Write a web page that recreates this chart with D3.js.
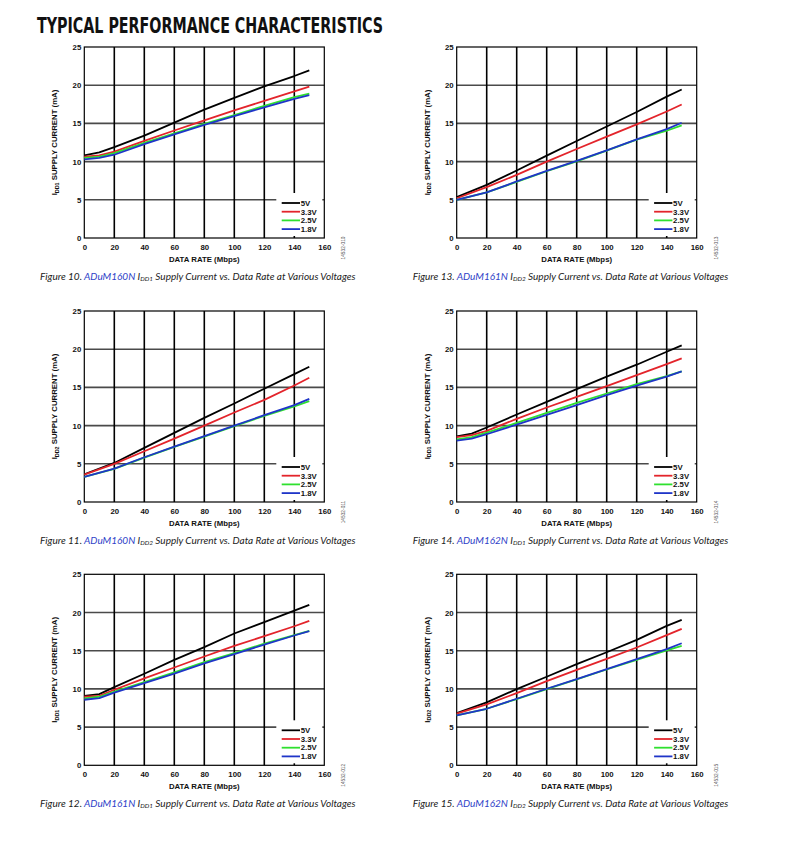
<!DOCTYPE html>
<html>
<head>
<meta charset="utf-8">
<script src="https://cdn.jsdelivr.net/npm/d3@7"></script>
<style>
  html, body { margin: 0; padding: 0; background: #fff; }
  svg { display: block; }
</style>
</head>
<body>
<svg id="chart" width="799" height="841"></svg>
<script>
// ---------- DATA ----------
const voltages = ["5V", "3.3V", "2.5V", "1.8V"];
const xTicks = [0, 20, 40, 60, 80, 100, 120, 140, 160];
const yTicks = [0, 5, 10, 15, 20, 25];

const ratesA = [0, 10, 20, 40, 60, 80, 100, 120, 140, 150];
const ratesB = [0, 20, 40, 60, 80, 100, 120, 140, 150];

// Figure 10: ADuM160N IDD1
const fig10_5V  = [10.8, 11.2, 11.9, 13.4, 15.1, 16.8, 18.35, 19.85, 21.2, 21.95];
const fig10_3V3 = [10.65, 10.8, 11.3, 12.7, 14.07, 15.4, 16.7, 17.96, 19.2, 19.8];
const fig10_2V5 = [10.5, 10.65, 11.1, 12.45, 13.7, 14.95, 16.1, 17.3, 18.45, 18.9];
const fig10_1V8 = [10.3, 10.5, 10.9, 12.3, 13.55, 14.8, 15.95, 17.1, 18.2, 18.7];

// Figure 13: ADuM161N IDD2
const fig13_5V  = [5.35, 6.96, 8.83, 10.78, 12.7, 14.6, 16.5, 18.5, 19.43];
const fig13_3V3 = [5.2, 6.65, 8.26, 10.0, 11.65, 13.26, 14.87, 16.56, 17.48];
const fig13_2V5 = [5.0, 5.96, 7.35, 8.74, 10.04, 11.43, 12.87, 14.04, 14.74];
const fig13_1V8 = [5.0, 5.96, 7.4, 8.78, 10.09, 11.48, 12.91, 14.26, 15.09];

// Figure 11: ADuM160N IDD2
const fig11_5V  = [3.63, 5.11, 7.08, 9.05, 11.01, 12.89, 14.82, 16.74, 17.7];
const fig11_3V3 = [3.58, 4.98, 6.64, 8.3, 10.0, 11.71, 13.37, 15.25, 16.26];
const fig11_2V5 = [3.28, 4.33, 5.81, 7.21, 8.57, 9.92, 11.28, 12.5, 13.2];
const fig11_1V8 = [3.28, 4.37, 5.86, 7.26, 8.61, 10.0, 11.36, 12.67, 13.5];

// Figure 14: ADuM162N IDD1
const fig14_5V  = [8.6, 8.96, 9.75, 11.45, 13.1, 14.77, 16.4, 17.97, 19.67, 20.5];
const fig14_3V3 = [8.48, 8.74, 9.3, 10.88, 12.37, 13.77, 15.17, 16.6, 18.05, 18.8];
const fig14_2V5 = [8.2, 8.5, 9.09, 10.35, 11.67, 12.98, 14.2, 15.43, 16.48, 17.1];
const fig14_1V8 = [8.04, 8.3, 8.87, 10.14, 11.4, 12.67, 13.98, 15.24, 16.4, 17.1];

// Figure 12: ADuM161N IDD1
const fig12_5V  = [9.1, 9.32, 10.24, 11.98, 13.8, 15.46, 17.25, 18.73, 20.25, 21.0];
const fig12_3V3 = [8.97, 9.1, 9.89, 11.37, 12.8, 14.24, 15.64, 16.9, 18.2, 18.9];
const fig12_2V5 = [8.75, 8.97, 9.63, 10.89, 12.15, 13.5, 14.68, 15.94, 17.03, 17.6];
const fig12_1V8 = [8.58, 8.8, 9.5, 10.76, 12.0, 13.33, 14.55, 15.8, 16.99, 17.55];

// Figure 15: ADuM162N IDD2
const fig15_5V  = [6.84, 8.23, 9.97, 11.59, 13.24, 14.8, 16.42, 18.25, 19.03];
const fig15_3V3 = [6.75, 7.97, 9.45, 11.02, 12.5, 13.94, 15.42, 17.03, 17.86];
const fig15_2V5 = [6.53, 7.4, 8.67, 9.97, 11.24, 12.54, 13.8, 15.03, 15.64];
const fig15_1V8 = [6.53, 7.4, 8.71, 10.02, 11.28, 12.6, 13.9, 15.2, 15.98];

const figNumbers = ["10", "13", "11", "14", "12", "15"];
const figParts   = ["ADuM160N", "ADuM161N", "ADuM160N", "ADuM162N", "ADuM161N", "ADuM162N"];
const figSubs    = ["DD1", "DD2", "DD2", "DD1", "DD1", "DD2"];
const figCodes   = ["14532-010", "14532-013", "14532-011", "14532-014", "14532-012", "14532-015"];
const figRates   = [ratesA, ratesB, ratesB, ratesA, ratesA, ratesB];
const figSeries  = [
  [fig10_5V, fig10_3V3, fig10_2V5, fig10_1V8],
  [fig13_5V, fig13_3V3, fig13_2V5, fig13_1V8],
  [fig11_5V, fig11_3V3, fig11_2V5, fig11_1V8],
  [fig14_5V, fig14_3V3, fig14_2V5, fig14_1V8],
  [fig12_5V, fig12_3V3, fig12_2V5, fig12_1V8],
  [fig15_5V, fig15_3V3, fig15_2V5, fig15_1V8]
];

// ---------- STYLE / LAYOUT ----------
const colors = ["#000000", "#e3242b", "#2fe02f", "#1f35c8"];
const plotW = 240, plotH = 191;
const colLeft = [84.3, 456.7];
const rowTop = [47, 311, 574.3];
const sansBold = "'Liberation Sans', Arial, sans-serif";

const svg = d3.select("#chart");

svg.append("text")
  .attr("x", 37).attr("y", 33)
  .attr("font-family", "'DejaVu Sans Condensed', 'Liberation Sans Narrow', 'Roboto', sans-serif")
  .attr("font-stretch", "condensed")
  .attr("font-weight", "bold")
  .attr("font-size", 21)
  .attr("textLength", 346)
  .attr("lengthAdjust", "spacingAndGlyphs")
  .attr("fill", "#111")
  .text("TYPICAL PERFORMANCE CHARACTERISTICS");

const x = d3.scaleLinear().domain([0, 160]).range([0, plotW]);
const y = d3.scaleLinear().domain([0, 25]).range([plotH, 0]);

figSeries.forEach((seriesList, i) => {
  const left = colLeft[i % 2];
  const top = rowTop[Math.floor(i / 2)];
  const g = svg.append("g").attr("transform", `translate(${left},${top})`);

  // horizontal grid
  g.selectAll(".hg").data(yTicks.slice(1, -1)).enter().append("line")
    .attr("x1", 0).attr("x2", plotW)
    .attr("y1", d => y(d)).attr("y2", d => y(d))
    .attr("stroke", "#4a4a4a").attr("stroke-width", 1.6);
  // vertical grid
  g.selectAll(".vg").data(xTicks.slice(1, -1)).enter().append("line")
    .attr("y1", 0).attr("y2", plotH)
    .attr("x1", d => x(d)).attr("x2", d => x(d))
    .attr("stroke", "#000").attr("stroke-width", 1.6);

  // legend background box (covers grid)
  g.append("rect")
    .attr("x", plotW - 48).attr("y", plotH - 45)
    .attr("width", 46).attr("height", 43)
    .attr("fill", "#fff");

  // frame
  g.append("rect").attr("x", 0).attr("y", 0).attr("width", plotW).attr("height", plotH)
    .attr("fill", "none").attr("stroke", "#000").attr("stroke-width", 1.2);

  // series lines
  const rates = figRates[i];
  const line = d3.line().x(d => x(d[0])).y(d => y(d[1]));
  seriesList.forEach((vals, k) => {
    g.append("path")
      .datum(rates.map((r, j) => [r, vals[j]]))
      .attr("d", line)
      .attr("fill", "none")
      .attr("stroke", colors[k])
      .attr("stroke-width", 1.8)
      .attr("stroke-linejoin", "round");
  });

  // legend
  voltages.forEach((v, k) => {
    const ly = plotH - 35 + k * 8.7;
    g.append("line")
      .attr("x1", plotW - 42.6).attr("x2", plotW - 24.3)
      .attr("y1", ly).attr("y2", ly)
      .attr("stroke", colors[k]).attr("stroke-width", 1.8);
    g.append("text")
      .attr("x", plotW - 23.6).attr("y", ly + 2.8)
      .attr("font-family", sansBold).attr("font-weight", "bold")
      .attr("font-size", 7.8).attr("fill", "#111")
      .text(v);
  });

  // axes tick labels
  const xAxis = d3.axisBottom(x).tickValues(xTicks).tickSize(0).tickPadding(6);
  const gx = g.append("g").attr("transform", `translate(0,${plotH})`).call(xAxis);
  gx.select(".domain").remove();
  gx.selectAll("text").attr("font-family", sansBold).attr("font-weight", "bold")
    .attr("font-size", 7.8).attr("fill", "#111");

  const yAxis = d3.axisLeft(y).tickValues(yTicks).tickSize(0).tickPadding(3);
  const gy = g.append("g").call(yAxis);
  gy.select(".domain").remove();
  gy.selectAll("text").attr("font-family", sansBold).attr("font-weight", "bold")
    .attr("font-size", 7.8).attr("fill", "#111");

  // axis titles
  g.append("text")
    .attr("x", plotW / 2).attr("y", plotH + 24)
    .attr("text-anchor", "middle")
    .attr("font-family", sansBold).attr("font-weight", "bold")
    .attr("font-size", 7.8).attr("fill", "#111")
    .text("DATA RATE (Mbps)");

  const yt = g.append("text")
    .attr("transform", `translate(${-27},${plotH / 2}) rotate(-90)`)
    .attr("text-anchor", "middle")
    .attr("font-family", sansBold).attr("font-weight", "bold")
    .attr("font-size", 7.8).attr("fill", "#111");
  yt.append("tspan").text("I");
  yt.append("tspan").attr("font-size", 5.4).attr("dy", 1.2).text(figSubs[i]);
  yt.append("tspan").attr("dy", -1.2).text(" SUPPLY CURRENT (mA)");

  // figure code
  g.append("text")
    .attr("transform", `translate(${plotW + 21},${plotH + 10}) rotate(-90)`)
    .attr("text-anchor", "middle")
    .attr("font-family", sansBold)
    .attr("font-size", 4.8).attr("fill", "#555")
    .text(figCodes[i]);

  // caption
  const cap = g.append("text")
    .attr("x", (i % 2 === 0 ? 40 : 412.7) - left)
    .attr("y", plotH + 42)
    .attr("font-family", "Lato, 'Open Sans', sans-serif")
    .attr("font-style", "italic")
    .attr("font-size", 10).attr("fill", "#222");
  cap.append("tspan").text(`Figure ${figNumbers[i]}. `);
  cap.append("tspan").attr("fill", "#2f3fc8").text(figParts[i]);
  cap.append("tspan").text(" I");
  cap.append("tspan").attr("font-size", 6.4).attr("dy", 0.8).text(figSubs[i]);
  cap.append("tspan").attr("dy", -0.8).text(" Supply Current vs. Data Rate at Various Voltages");
});
</script>
</body>
</html>
